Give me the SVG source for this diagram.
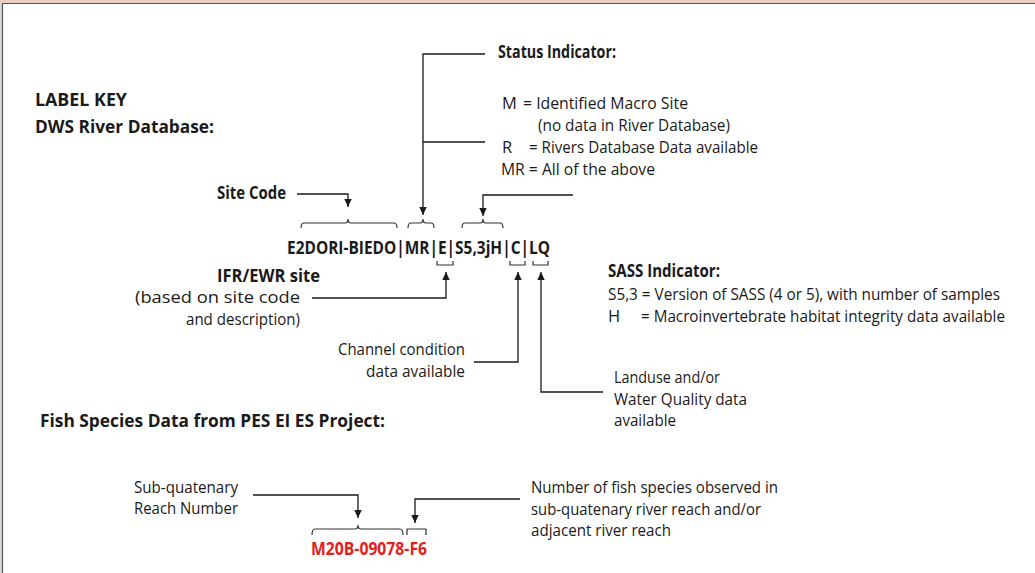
<svg xmlns="http://www.w3.org/2000/svg" width="1035" height="573" viewBox="0 0 1035 573">
<defs>
<marker id="ah" markerUnits="userSpaceOnUse" markerWidth="9" markerHeight="9" viewBox="0 0 9 9" refX="8" refY="4.5" orient="auto">
<path d="M0,0.8 L8,4.5 L0,8.2 Z" fill="#1a1a1a"/>
</marker>
</defs>
<style>
text{font-family:"Open Sans","Liberation Sans",sans-serif;fill:#1a1a1a}
.r{font-size:16.5px}
.b{font-size:17.5px;font-weight:bold}
.red{fill:#e3201b}
.c{fill:none;stroke:#1a1a1a;stroke-width:1.3}
.br{fill:none;stroke:#333;stroke-width:1.2}
</style>
<rect x="0" y="0" width="1035" height="573" fill="#ffffff"/>
<rect x="0" y="0" width="1035" height="3" fill="#e9cdbf"/>
<rect x="0" y="3" width="2" height="570" fill="#d8d8d8"/>
<path d="M2.5,573 V3.5 H1035" fill="none" stroke="#555" stroke-width="1.2"/>

<g id="title">
<text class="b" x="35" y="106" textLength="92" lengthAdjust="spacingAndGlyphs">LABEL KEY</text>
<text class="b" x="35" y="133" textLength="179" lengthAdjust="spacingAndGlyphs">DWS River Database:</text>
</g>

<g id="status">
<text class="b" x="498" y="58" textLength="118" lengthAdjust="spacingAndGlyphs">Status Indicator:</text>
<text class="r" x="502" y="109">M</text>
<text class="r" x="523" y="109" textLength="165" lengthAdjust="spacingAndGlyphs">= Identified Macro Site</text>
<text class="r" x="538" y="131" textLength="192" lengthAdjust="spacingAndGlyphs">(no data in River Database)</text>
<text class="r" x="502" y="153">R</text>
<text class="r" x="529" y="153" textLength="229" lengthAdjust="spacingAndGlyphs">= Rivers Database Data available</text>
<text class="r" x="501" y="175" textLength="154" lengthAdjust="spacingAndGlyphs">MR = All of the above</text>
</g>

<g id="sitecode">
<text class="b" x="217" y="199" textLength="69" lengthAdjust="spacingAndGlyphs">Site Code</text>
</g>

<g id="code">
<text class="b" x="287" y="254" textLength="263" lengthAdjust="spacingAndGlyphs">E2DORI-BIEDO|MR|E|S5,3jH|C|LQ</text>
</g>

<g id="ifr">
<text class="b" x="217" y="282" textLength="103" lengthAdjust="spacingAndGlyphs">IFR/EWR site</text>
<text class="r" x="135" y="303" textLength="165" lengthAdjust="spacingAndGlyphs">(based on site code</text>
<text class="r" x="186" y="325" textLength="114" lengthAdjust="spacingAndGlyphs">and description)</text>
</g>

<g id="sass">
<text class="b" x="608" y="277" textLength="112" lengthAdjust="spacingAndGlyphs">SASS Indicator:</text>
<text class="r" x="608" y="300" textLength="392" lengthAdjust="spacingAndGlyphs">S5,3 = Version of SASS (4 or 5), with number of samples</text>
<text class="r" x="608" y="322">H</text>
<text class="r" x="641" y="322" textLength="364" lengthAdjust="spacingAndGlyphs">= Macroinvertebrate habitat integrity data available</text>
</g>

<g id="channel">
<text class="r" x="338" y="355" textLength="127" lengthAdjust="spacingAndGlyphs">Channel condition</text>
<text class="r" x="366" y="377" textLength="99" lengthAdjust="spacingAndGlyphs">data available</text>
</g>

<g id="landuse">
<text class="r" x="614" y="383" textLength="106" lengthAdjust="spacingAndGlyphs">Landuse and/or</text>
<text class="r" x="614" y="405" textLength="133" lengthAdjust="spacingAndGlyphs">Water Quality data</text>
<text class="r" x="614" y="426" textLength="62" lengthAdjust="spacingAndGlyphs">available</text>
</g>

<g id="fishtitle">
<text class="b" x="40" y="427" textLength="345" lengthAdjust="spacingAndGlyphs">Fish Species Data from PES EI ES Project:</text>
</g>

<g id="subq">
<text class="r" x="134" y="493" textLength="104" lengthAdjust="spacingAndGlyphs">Sub-quatenary</text>
<text class="r" x="134" y="514" textLength="104" lengthAdjust="spacingAndGlyphs">Reach Number</text>
</g>

<g id="fishnum">
<text class="r" x="531" y="493" textLength="247" lengthAdjust="spacingAndGlyphs">Number of fish species observed in</text>
<text class="r" x="531" y="515" textLength="230" lengthAdjust="spacingAndGlyphs">sub-quatenary river reach and/or</text>
<text class="r" x="531" y="536" textLength="140" lengthAdjust="spacingAndGlyphs">adjacent river reach</text>
</g>

<g id="fishcode">
<text class="b red" x="311" y="555" textLength="116" lengthAdjust="spacingAndGlyphs">M20B-09078-F6</text>
</g>

<g id="braces">
<path class="br" d="M301,228 Q301,223 304,223 H345 Q348,223 348,219 Q348,223 351,223 H394 Q397,223 397,228"/>
<path class="br" d="M408,228 Q408,223 411,223 H420 Q423,223 423,219 Q423,223 426,223 H431 Q434,223 434,228"/>
<path class="br" d="M462,228 Q462,223 465,223 H480 Q483,223 483,219 Q483,223 486,223 H500 Q503,223 503,228"/>
<path class="br" d="M437,261 V265 H453 V261"/>
<path class="br" d="M510,261 V265 H525 V261"/>
<path class="br" d="M533,261 V265 H548 V261"/>
<path class="br" d="M312,535 Q312,529 315,529 H355 Q358,529 358,525 Q358,529 361,529 H400 Q403,529 403,535"/>
<path class="br" d="M407,535 V529 H426 V535"/>
</g>

<g id="connectors">
<path class="c" d="M485,54 H423 V215" marker-end="url(#ah)"/>
<path class="c" d="M485,142 H423"/>
<path class="c" d="M297,194 H348 V207" marker-end="url(#ah)"/>
<path class="c" d="M573,195 H483 V216" marker-end="url(#ah)"/>
<path class="c" d="M312,298 H446 V272" marker-end="url(#ah)"/>
<path class="c" d="M474,362 H518 V272" marker-end="url(#ah)"/>
<path class="c" d="M603,392 H541 V272" marker-end="url(#ah)"/>
<path class="c" d="M253,495 H358 V518" marker-end="url(#ah)"/>
<path class="c" d="M520,499 H415 V523" marker-end="url(#ah)"/>
</g>
</svg>
